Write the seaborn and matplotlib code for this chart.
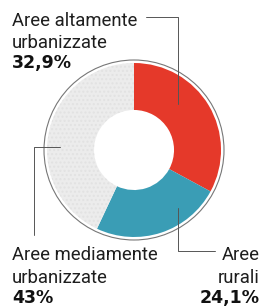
import matplotlib
matplotlib.use("Agg")
import matplotlib.pyplot as plt
import seaborn as sns

# dati
aree = ["Aree altamente\nurbanizzate", "Aree\nrurali", "Aree mediamente\nurbanizzate"]
quote = [32.9, 24.1, 43.0]
etichette_pct = ["32,9%", "24,1%", "43%"]
colori = ["#e5392a", "#3a9db5", "#ececec"]

sns.set_theme(style="white")
plt.rcParams['font.family'] = ['Roboto', 'DejaVu Sans']

W, H = 265, 307
fig = plt.figure(figsize=(W / 100, H / 100), dpi=100)
ax = fig.add_axes([0, 0, 1, 1])

cx, cy, r = 134, H - 150, 87
wedges, _ = ax.pie(
    quote, colors=colori, startangle=90, counterclock=False,
    center=(cx, cy), radius=r, wedgeprops=dict(width=r * 0.54, linewidth=0),
)
plt.rcParams['hatch.linewidth'] = 0.5
wedges[2].set_hatch("....")
wedges[2].set_edgecolor("#e2e2e2")
wedges[2].set_linewidth(0)
ax.add_patch(plt.Circle((cx, cy), r + 3, fill=False, color="#777777", lw=0.8))
ax.set_xlim(0, W)
ax.set_ylim(0, H)
ax.axis("off")

def Y(v):
    return H - v

def etichetta(x, basi, testo, pct, ha):
    righe = testo.split("\n")
    for riga, b in zip(righe, basi):
        ax.text(x, Y(b), riga, fontsize=13.3, va="baseline", ha=ha, color="#1e1e1e")
    ax.text(x, Y(basi[-1]), pct, fontsize=12.5, fontweight="bold", family="DejaVu Sans",
            va="baseline", ha=ha, color="#111111")

etichetta(12, [26, 48, 68], aree[0], etichette_pct[0], "left")
ax.plot([146, 178, 178], [Y(17), Y(17), Y(104)], color="#555555", lw=0.7)

etichetta(12, [260, 283, 303], aree[2], etichette_pct[2], "left")
ax.plot([60, 34, 34], [Y(147), Y(147), Y(235)], color="#555555", lw=0.7)

etichetta(260, [260, 283, 303], aree[1], etichette_pct[1], "right")
ax.plot([178, 178, 215], [Y(208), Y(251), Y(251)], color="#555555", lw=0.7)

fig.savefig("out.png", dpi=100)
